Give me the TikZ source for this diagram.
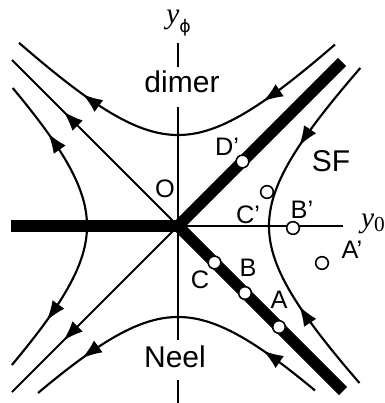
\documentclass[tikz,border=0pt]{standalone}
\usepackage{fontspec}
\setmainfont{Liberation Sans}
\newfontfamily\timesfont{Liberation Serif}
\newfontfamily\greekfont{DejaVu Sans}
\usetikzlibrary{arrows.meta,decorations.markings}
\tikzset{
  flowtip/.tip  ={Latex[length=15pt,width=11pt]},
  axis/.style   ={line width=1.5pt},
  bar/.style    ={line width=8.5pt, line join=miter},
  curve/.style  ={line width=1.6pt},
  fixpt/.style  ={draw, circle, fill=white, line width=1.2pt, minimum size=9.5pt, inner sep=0pt},
  lbl/.style    ={font=\fontsize{19}{22}\selectfont, inner sep=0pt},
  phase/.style  ={font=\fontsize{22.5}{26}\selectfont, anchor=base, inner sep=0pt},
  flow/.style   ={postaction={decorate}, decoration={markings, mark=at position #1 with {\arrow{flowtip}}}},
  flows/.style 2 args={postaction={decorate}, decoration={markings,
      mark=at position #1 with {\arrow{flowtip}}, mark=at position #2 with {\arrow{flowtip}}}},
}

\begin{document}
\begin{tikzpicture}[x=7.5pt,y=7.5pt]
  \useasboundingbox (-17.8,-17.7) rectangle (20.7,22.6);
  \coordinate (O) at (0,0);

  % axes
  \draw[axis] (0,18.3) -- (0,15.9) (0,11.9) -- (0,-11.4) (0,-15.4) -- (0,-17.7);
  \draw[axis] (O) -- (16.5,0);
  \draw[axis, flow=0.69] (O) -- (-16.6,16.6);
  \draw[axis, flow=0.69] (O) -- (-16.6,-16.6);

  % fixed lines
  \draw[bar] (16.4,16.4) -- (O) -- (16.5,-16.5);
  \draw[bar] (-16.7,0) -- (O);

  % flow lines
  \draw[curve, flows={0.247}{0.78}] plot[domain=15.7:-15.9, samples=80] (\x,{sqrt(\x*\x+82.8)});
  \draw[curve, flows={0.204}{0.825}] plot[domain=13.7:-14.0, samples=80] (\x,{-sqrt(\x*\x+82.8)});
  \draw[curve, flow=0.534] plot[domain=15.8:0, samples=50] ({sqrt(\x*\x+82.8)},\x);
  \draw[curve, flow=0.530] plot[domain=-15.7:0, samples=50] ({sqrt(\x*\x+82.8)},\x);
  \draw[curve, flow=0.64] plot[domain=0:13.8, samples=50] ({-sqrt(\x*\x+82.8)},\x);
  \draw[curve, flow=0.65] plot[domain=0:-13.9, samples=50] ({-sqrt(\x*\x+82.8)},\x);

  % fixed points
  \node[fixpt] (Dp) at (6.45,6.45) {};
  \node[fixpt] (Cp) at (8.9,3.4) {};
  \node[fixpt] (Bp) at (11.5,-0.2) {};
  \node[fixpt] (Ap) at (14.4,-3.7) {};
  \node[fixpt] (C) at (3.65,-3.65) {};
  \node[fixpt] (B) at (6.7,-6.7) {};
  \node[fixpt] (A) at (10.1,-10.1) {};

  \node[lbl] (Ol) at (-1.3,3.7) {O};
  \node[lbl] (Dpl) at (4.9,7.9) {D’};
  \node[lbl] (Cpl) at (7.0,1.1) {C’};
  \node[lbl] (Bpl) at (12.4,1.6) {B’};
  \node[lbl] (Apl) at (17.4,-2.4) {A’};
  \node[lbl] (Cl) at (2.2,-5.4) {C};
  \node[lbl] (Bl) at (7.0,-4.2) {B};
  \node[lbl] (Al) at (10.1,-7.4) {A};

  \node[phase] (dimer) at (0.4,13.3) {dimer};
  \node[phase] (neel) at (-0.3,-14.1) {Neel};
  \node[phase] (sf) at (15.3,5.4) {SF};

  \node[anchor=base, inner sep=0pt] (yphi) at (0.05,20.25)
    {{\timesfont\itshape\fontsize{22}{24}\selectfont y}\raisebox{-7pt}{\greekfont\fontsize{13}{15}\selectfont ϕ}};
  \node[anchor=base, inner sep=0pt] (yzero) at (19.5,-0.2)
    {{\timesfont\itshape\fontsize{22}{24}\selectfont y}\raisebox{-3pt}{\timesfont\fontsize{16}{18}\selectfont 0}};
\end{tikzpicture}
\end{document}
